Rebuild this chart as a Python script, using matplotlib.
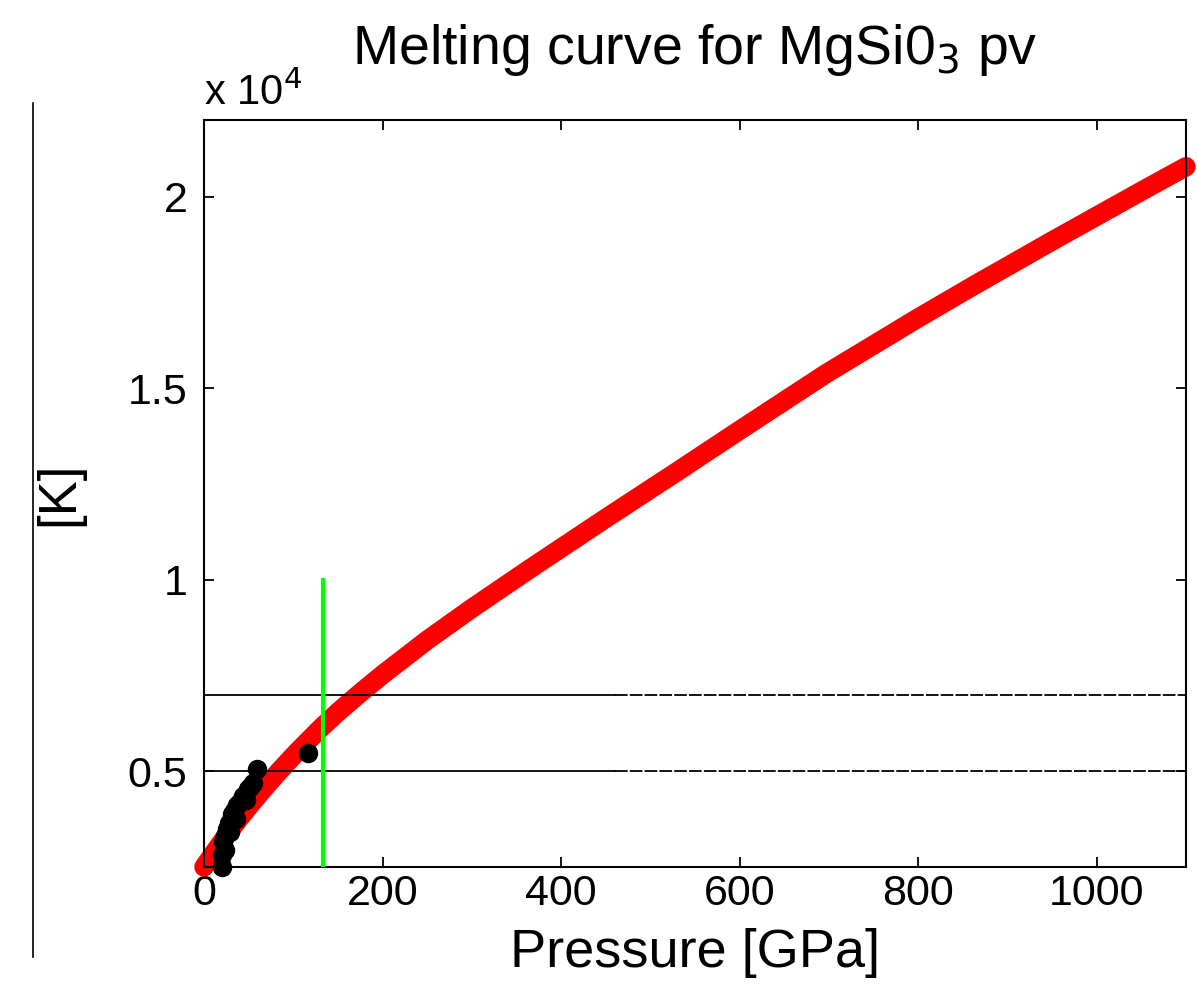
"""
    melting curve for MgSiO3 perovskite
    red = fitted curve, black = experimental points
"""

import matplotlib
matplotlib.use("Agg")
import matplotlib.pyplot as plt
from matplotlib.lines import Line2D
from matplotlib.ticker import FuncFormatter
matplotlib.rcParams['font.family'] = ["Liberation Sans", "DejaVu Sans"]

# %% data
curvePressure = [0, 10, 25, 40, 50, 65, 85, 105, 131, 150, 176, 200, 250, 300,
                 363, 450, 530, 600, 697, 800, 864, 950, 1000, 1050, 1100]
curveTemp = [2500, 2830, 3320, 3780, 4070, 4490, 5020, 5520, 6130, 6540, 7060,
             7520, 8420, 9250, 10250, 11600, 12820, 13900, 15380, 16830, 17700,
             18840, 19490, 20140, 20780]

expPressure = [20, 20, 21, 23, 24, 26, 28, 29, 31, 34, 36, 37, 40, 44, 47, 49,
               52, 55, 59, 116]
expTemp = [2500, 2800, 3150, 2950, 3300, 3500, 3650, 3400, 3870, 3950, 3750,
           4130, 4200, 4350, 4250, 4530, 4600, 4690, 5050, 5470]

refTemps = [5000, 7000]
cmbPressure = 133
cmbTop = 10000

xTicks = [0, 200, 400, 600, 800, 1000]
yTicks = [5000, 10000, 15000, 20000]

# %%
fig = plt.figure(figsize=(11.97, 9.94), dpi=100)
ax = fig.add_axes([0.1704, 0.1278, 0.8204, 0.7515])

ax.plot(curvePressure, curveTemp, color="red", lw=14,
        solid_capstyle="round", solid_joinstyle="round", clip_on=False, zorder=2)

for t in refTemps:
    ax.plot([0, 460], [t, t], color="black", lw=1.3, zorder=3)
    ax.plot([460, 1100], [t, t], color="black", lw=1.3, dashes=(7, 1.2), zorder=3)

ax.plot(expPressure, expTemp, "o", color="black", ms=13, clip_on=False, zorder=4)

ax.plot([cmbPressure, cmbPressure], [2500, cmbTop], color=(0, 1, 0), lw=3, zorder=5)

ax.set_xlim(0, 1100)
ax.set_ylim(2500, 22000)
ax.set_xticks(xTicks)
ax.set_yticks(yTicks)
ax.yaxis.set_major_formatter(FuncFormatter(lambda v, p: "{:g}".format(v / 1e4)))

ax.tick_params("both", direction="in", length=7, width=1.3, labelsize=31,
               top=True, right=True)
ax.tick_params("x", pad=5)
ax.tick_params("y", pad=12)
for s in ax.spines.values():
    s.set_linewidth(1.5)

ax.set_xlabel("Pressure [GPa]", fontsize=39, labelpad=10)
ax.set_ylabel("[K]", fontsize=38, labelpad=31)
ax.set_title("Melting curve for MgSi0$_3$ pv", fontsize=40, pad=40)
ax.text(0.0, 1.02, "x 10$^4$", transform=ax.transAxes, fontsize=30,
        ha="left", va="baseline")

# stray line on the left of the original export
fig.add_artist(Line2D([0.0276, 0.0276], [1 - 957 / 994, 1 - 103 / 994],
                      color="black", lw=1.2))

plt.savefig("out.png", dpi=100)
